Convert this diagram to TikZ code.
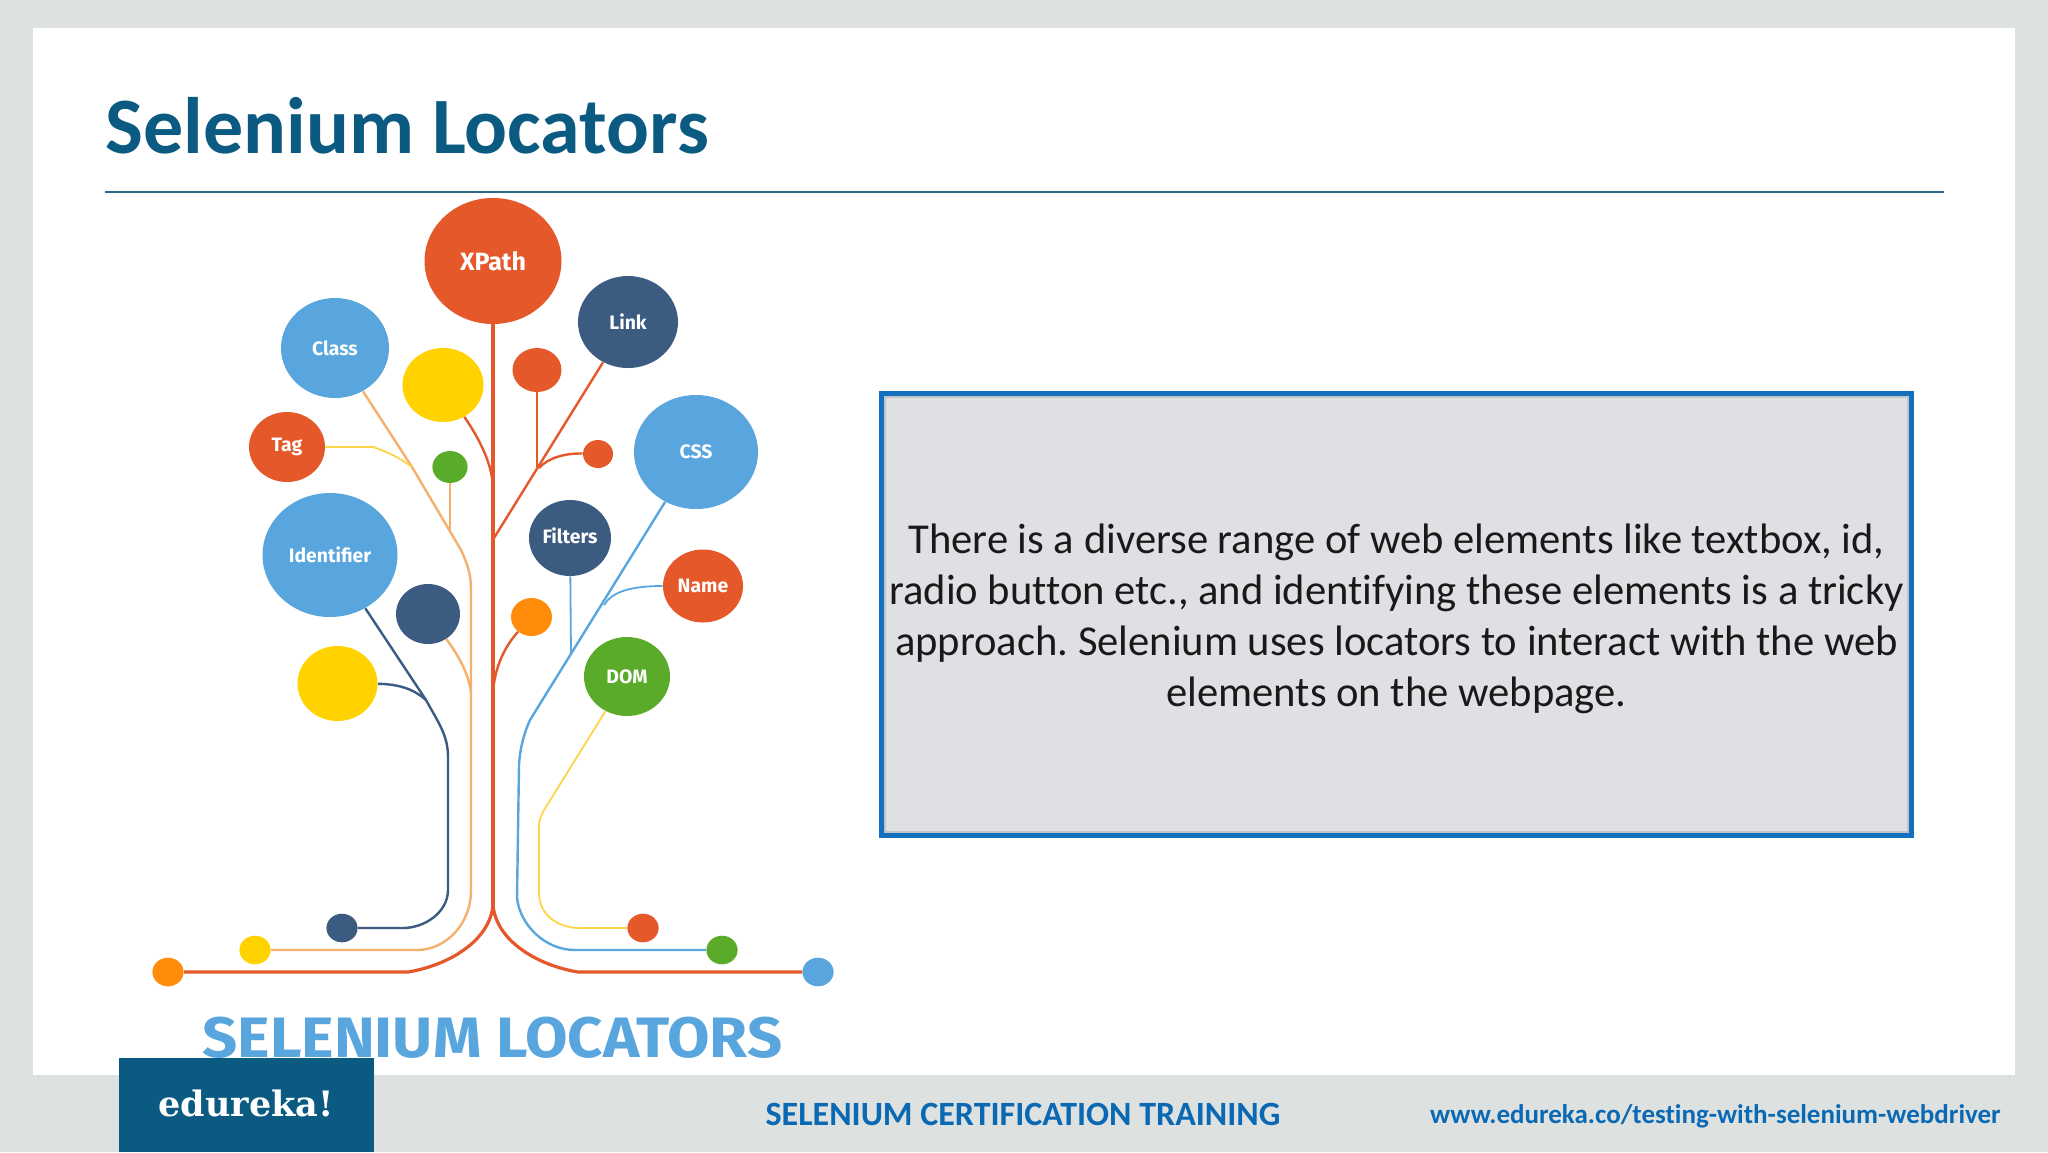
\documentclass[tikz,border=0pt]{standalone}
\usepackage{fontspec}
\setmainfont[Ligatures=CommonOff]{Carlito}
\newfontfamily\treefont{Fira Sans}
\newfontfamily\logofont{DejaVu Serif}
\usetikzlibrary{shapes.geometric}
\definecolor{pagegrey}{HTML}{DDE2E1}
\definecolor{titleblue}{HTML}{0B5A82}
\definecolor{ruleblue}{HTML}{2A6A86}
\definecolor{boxblue}{HTML}{1270BE}
\definecolor{boxgrey}{HTML}{DFE0E3}
\definecolor{boxshade}{HTML}{C2C3C7}
\definecolor{footblue}{HTML}{0B69B4}
\definecolor{tred}{HTML}{E5582A}
\definecolor{tblue}{HTML}{58A6DD}
\definecolor{tnavy}{HTML}{3B5B80}
\definecolor{tyellow}{HTML}{FFD200}
\definecolor{tgreen}{HTML}{5AAB2A}
\definecolor{torange}{HTML}{FF8C0A}
\definecolor{tpeach}{HTML}{F4B06C}
\definecolor{tlemon}{HTML}{FFD548}
\tikzset{blob/.style n args={3}{ellipse,fill=#1,inner sep=0pt,text=white,
    minimum width=#2,minimum height=#3,font=\treefont\bfseries\fontsize{9.7}{12}\selectfont}}
\begin{document}
\frenchspacing
\begin{tikzpicture}[x=0.5pt,y=-0.5pt]
  \tikzstyle{trunkline}=[tred,line width=1.6pt]
  \tikzstyle{redline}=[tred,line width=1.2pt]
  \tikzstyle{peachline}=[tpeach,line width=1.2pt]
  \tikzstyle{navyline}=[tnavy,line width=1.2pt]
  \tikzstyle{blueline}=[tblue,line width=1.2pt]
  \tikzstyle{lemonline}=[tlemon,line width=0.9pt]
  \tikzstyle{footer}=[anchor=base,font=\bfseries\fontsize{17}{20}\selectfont,text=footblue]

  % page
  \fill[pagegrey] (0,0) rectangle (2048,1152);
  \fill[white] (33,28) rectangle (2015,1075);
  \fill[titleblue] (119,1058) rectangle (374,1152);
  \node[anchor=base west,inner sep=0pt,text=titleblue,font=\bfseries\fontsize{40}{44}\selectfont] (title) at (105,153) {Selenium Locators};
  \coordinate (ruleL) at (105,192);
  \coordinate (ruleR) at (1944,192);
  \draw[ruleblue,line width=1pt] (ruleL) -- (ruleR);

  % text box
  \node[rectangle,draw=boxblue,fill=boxgrey,line width=2.5pt,minimum width=515pt,minimum height=221pt,
        inner sep=0pt] (textbox) at (1396.5,614.5) {};
  \draw[boxshade,line width=1pt] ([shift={(6,6)}]textbox.north west) rectangle ([shift={(-6,-6)}]textbox.south east);
  \node[inner sep=0pt,align=center,text=black!90,font=\fontsize{21.3}{25.5}\selectfont] (boxtext) at (1396.5,618.5)
        {There is a diverse range of web elements like textbox, id,\\
         radio button etc., and identifying these elements is a tricky\\
         approach. Selenium uses locators to interact with the web\\
         elements on the webpage.};

  % tree nodes
  \node[blob={tred}{68.5pt}{63pt},font=\treefont\bfseries\fontsize{12.5}{14}\selectfont] (xpath) at (493,261) {XPath};
  \node[blob={tnavy}{50pt}{46pt}]     (link)    at (628,322) {Link};
  \node[blob={tblue}{54pt}{50pt}]     (class)   at (335,348) {Class};
  \node[blob={tyellow}{40.5pt}{37pt}] (yellowA) at (443,385) {};
  \node[blob={tred}{24.5pt}{22pt}]    (redA)    at (537,370) {};
  \node[blob={tred}{38pt}{35pt}]      (tag)     at (287,447) {Tag};
  \node[blob={tgreen}{17.6pt}{16pt}]  (greenA)  at (450,467) {};
  \node[blob={tred}{15pt}{14pt}]      (redB)    at (598,454) {};
  \node[blob={tblue}{62pt}{57pt}]     (css)     at (696,452) {CSS};
  \node[blob={tblue}{67.5pt}{62pt}]   (ident)   at (330,555) {Identifier};
  \node[blob={tnavy}{41pt}{38pt}]     (filters) at (570,538) {\raisebox{2pt}{Filters}};
  \node[blob={tred}{40pt}{36.5pt}]    (name)    at (703,586) {Name};
  \node[blob={tnavy}{32pt}{30pt}]     (navyA)   at (428,614) {};
  \node[blob={torange}{20.5pt}{19pt}] (orangeA) at (531.5,617) {};
  \node[blob={tyellow}{40pt}{37.5pt}] (yellowB) at (337.5,683.5) {};
  \node[blob={tgreen}{43pt}{39.5pt}]  (dom)     at (627,676.5) {DOM};

  % bottom dots
  \node[blob={tnavy}{15.6pt}{14.3pt}]   (navyB)   at (342,928) {};
  \node[blob={tyellow}{15.6pt}{14.3pt}] (yellowC) at (255,950) {};
  \node[blob={torange}{15.6pt}{14.3pt}] (orangeB) at (168,972) {};
  \node[blob={tred}{15.6pt}{14.3pt}]    (redC)    at (643,928) {};
  \node[blob={tgreen}{15.6pt}{14.3pt}]  (greenB)  at (722,950) {};
  \node[blob={tblue}{15.6pt}{14.3pt}]   (blueB)   at (818,972) {};

  % joints
  \coordinate (root) at (493,905);
  \coordinate (rootL) at (408,972);
  \coordinate (rootR) at (578,972);
  \coordinate (jYellowA) at (493,490);
  \coordinate (jLink) at (494,538);
  \coordinate (jRed) at (537,467);
  \coordinate (jOrange) at (493,692);
  \coordinate (jClass) at (412,467);
  \coordinate (kClass) at (461,550);
  \coordinate (mClass) at (471,590);
  \coordinate (nClass) at (471,890);
  \coordinate (eClass) at (417,950);
  \coordinate (jGreen) at (450,532);
  \coordinate (jTag) at (373,447);
  \coordinate (jNavy) at (471,692);
  \coordinate (jIdent) at (426,700);
  \coordinate (mIdent) at (448,757);
  \coordinate (nIdent) at (448,890);
  \coordinate (eIdent) at (403,928);
  \coordinate (kCss) at (530,720);
  \coordinate (mCss) at (519,765);
  \coordinate (nCss) at (517,898);
  \coordinate (eCss) at (575,950);
  \coordinate (jFilters) at (571,655);
  \coordinate (jName) at (604,605);
  \coordinate (kDom) at (544,810);
  \coordinate (mDom) at (539,825);
  \coordinate (nDom) at (539,893);
  \coordinate (eDom) at (580,928);

  % red part
  \draw[trunkline] (xpath) -- (root);
  \draw[trunkline] (root) .. controls (490,940) and (450,965) .. (rootL) -- (orangeB);
  \draw[trunkline] (root) .. controls (496,940) and (536,965) .. (rootR) -- (blueB);
  \draw[redline] (yellowA) .. controls (480,440) and (493,465) .. (jYellowA);
  \draw[redline] (link) -- (jLink);
  \draw[redline] (redA) -- (jRed);
  \draw[redline] (redB) .. controls (565,453) and (548,458) .. (539,468);
  \draw[redline] (orangeA) .. controls (506,645) and (495,665) .. (jOrange);

  % left part
  \draw[peachline] (class) -- (jClass) -- (kClass) .. controls (468,565) and (471,575) .. (mClass) -- (nClass)
     .. controls (471,925) and (445,950) .. (eClass) -- (yellowC);
  \draw[lemonline] (tag) -- (jTag) .. controls (388,452) and (400,458) .. (jClass);
  \draw[peachline,line width=0.9pt] (greenA) -- (jGreen);
  \draw[peachline] (navyA) .. controls (458,655) and (468,672) .. (jNavy);
  \draw[navyline] (ident) -- (jIdent) .. controls (438,722) and (448,735) .. (mIdent) -- (nIdent)
     .. controls (448,912) and (425,928) .. (eIdent) -- (navyB);
  \draw[navyline] (yellowB) .. controls (400,684) and (415,690) .. (jIdent);

  % right part
  \draw[blueline] (css) -- (kCss) .. controls (524,733) and (520,748) .. (mCss) -- (nCss)
     .. controls (520,925) and (545,950) .. (eCss) -- (greenB);
  \draw[blueline,line width=0.9pt] (filters) -- (jFilters);
  \draw[blueline,line width=0.9pt] (name) .. controls (630,586) and (612,592) .. (jName);
  \draw[lemonline] (dom) -- (kDom) .. controls (541,816) and (539,820) .. (mDom) -- (nDom)
     .. controls (539,915) and (558,928) .. (eDom) -- (redC);

  % captions
  \node[anchor=base,inner sep=0pt,text=tblue,font=\treefont\bfseries\fontsize{28.5}{34}\selectfont] (caption) at (492.5,1057) {\scalebox{1.08}[1]{SELENIUM LOCATORS}};
  \node[anchor=base,inner sep=0pt,text=white,font=\logofont\bfseries\fontsize{17.5}{22}\selectfont] (logo) at (246,1116) {edureka!};
  \node[footer,inner sep=0pt] (course) at (1023,1125) {SELENIUM CERTIFICATION TRAINING};
  \node[footer,inner sep=0pt,font=\bfseries\fontsize{13.5}{17}\selectfont] (site) at (1715.5,1123) {www.edureka.co/testing-with-selenium-webdriver};
\end{tikzpicture}
\end{document}
